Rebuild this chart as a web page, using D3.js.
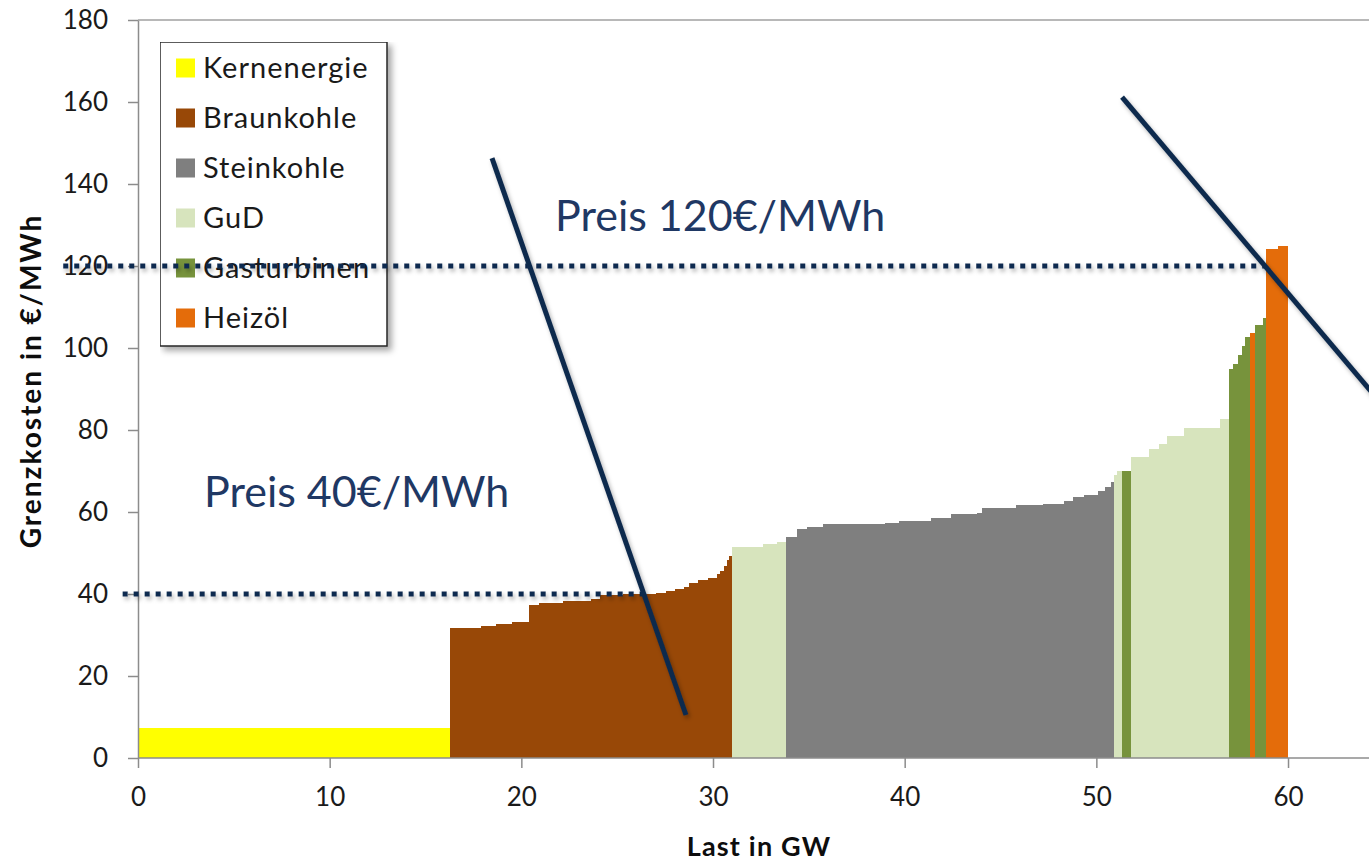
<!DOCTYPE html>
<html>
<head>
<meta charset="utf-8">
<script src="https://cdn.jsdelivr.net/npm/d3@7"></script>
<style>
  html, body { margin: 0; padding: 0; background: #ffffff; }
  svg { display: block; }
  text { font-family: Lato, "Open Sans", sans-serif; }
</style>
</head>
<body>
<svg id="chart" width="1369" height="864"></svg>
<script>
// Merit-order curve: marginal cost per power plant block, sorted by cost.
const techNames  = ["Kernenergie", "Braunkohle", "Steinkohle", "GuD", "Gasturbinen", "Heizöl"];
const techColors = ["#ffff00", "#984807", "#7f7f7f", "#d7e4bd", "#77933c", "#e46c0a"];

// Each block starts at stepStart (GW of cumulative load) and runs to the next start.
const stepStart = [
  0,
  16.28, 17.92, 18.67, 19.5, 20.42, 20.94, 22.16, 23.65, 24.12, 25.3, 27.05, 27.57, 28.0, 28.5, 28.76, 29.2, 29.75, 30.2, 30.37, 30.55, 30.72, 30.85,
  30.98, 32.62, 33.32,
  33.81, 34.37, 34.92, 35.72, 38.97, 39.72, 41.37, 42.4, 43.75, 44.05, 45.79, 47.23, 48.33, 48.8, 49.36, 50.07, 50.45, 50.75,
  50.9, 51.08,
  51.36,
  51.81, 52.75, 53.29, 53.67, 54.59, 56.45,
  56.94, 57.12, 57.38, 57.58, 57.76,
  58.03,
  58.29, 58.68,
  58.85, 59.5
];
const stepEnd = 59.96;
const stepCost = [
  7.4,
  31.7, 32.1, 32.6, 33.2, 37.3, 37.8, 38.3, 38.8, 39.8, 40.1, 40.3, 40.8, 41.2, 41.8, 42.8, 43.4, 44.0, 44.8, 45.6, 46.8, 48.2, 49.2,
  51.4, 52.1, 52.6,
  53.8, 55.9, 56.4, 57.0, 57.4, 57.7, 58.5, 59.4, 59.8, 61.0, 61.6, 62.0, 62.6, 63.6, 64.2, 65.1, 66.2, 67.2,
  69.0, 70.1,
  70.1,
  73.5, 75.3, 76.6, 78.6, 80.4, 82.6,
  94.9, 96.2, 98.3, 100.4, 102.6,
  103.6,
  105.6, 107.2,
  124.1, 124.9
];
const stepTech = [
  0,
  1, 1, 1, 1, 1, 1, 1, 1, 1, 1, 1, 1, 1, 1, 1, 1, 1, 1, 1, 1, 1, 1,
  3, 3, 3,
  2, 2, 2, 2, 2, 2, 2, 2, 2, 2, 2, 2, 2, 2, 2, 2, 2, 2,
  3, 3,
  4,
  3, 3, 3, 3, 3, 3,
  4, 4, 4, 4, 4,
  5,
  4, 4,
  5, 5
];

// Axis ticks
const xTicks = [0, 10, 20, 30, 40, 50, 60];
const yTicks = [0, 20, 40, 60, 80, 100, 120, 140, 160, 180];

// Demand curves (load GW, price €/MWh) and the resulting market prices
const demandLow  = [[18.47, 146.3], [28.59, 10.5]];
const demandHigh = [[51.34, 161.2], [66.0, 80.2]];
const priceLevels = [40, 120];
const priceLabels = ["Preis 40€/MWh", "Preis 120€/MWh"];
const priceLineStart = [-0.8, -3.9];

const svg = d3.select("#chart");
const W = 1369, H = 864;

const x = d3.scaleLinear().domain([0, 65]).range([138, 138 + 65 * 19.167]);
const y = d3.scaleLinear().domain([0, 180]).range([758, 20]);

const defs = svg.append("defs");
const shadow = defs.append("filter").attr("id", "shadow")
  .attr("filterUnits", "userSpaceOnUse")
  .attr("x", 0).attr("y", 0).attr("width", W).attr("height", H);
shadow.append("feDropShadow").attr("dx", 2).attr("dy", 3).attr("stdDeviation", 2)
  .attr("flood-color", "#000").attr("flood-opacity", 0.3);
const boxShadow = defs.append("filter").attr("id", "boxShadow")
  .attr("filterUnits", "userSpaceOnUse")
  .attr("x", 0).attr("y", 0).attr("width", W).attr("height", H);
boxShadow.append("feDropShadow").attr("dx", 4).attr("dy", 4).attr("stdDeviation", 3)
  .attr("flood-color", "#000").attr("flood-opacity", 0.35);

svg.append("rect").attr("width", W).attr("height", H).attr("fill", "#fff");

// Plot frame top line
svg.append("line")
  .attr("x1", x(0)).attr("x2", W)
  .attr("y1", y(180)).attr("y2", y(180))
  .attr("stroke", "#a0a0a0").attr("stroke-width", 1.5);

// Merit-order blocks
const steps = stepStart.map((s, i) => ({
  x0: s,
  x1: i < stepStart.length - 1 ? stepStart[i + 1] : stepEnd,
  cost: stepCost[i],
  tech: stepTech[i]
}));

svg.append("g").attr("shape-rendering", "crispEdges")
  .selectAll("rect").data(steps).join("rect")
  .attr("x", d => x(d.x0))
  .attr("width", d => x(d.x1) - x(d.x0) + 0.5)
  .attr("y", d => y(d.cost))
  .attr("height", d => y(0) - y(d.cost))
  .attr("fill", d => techColors[d.tech]);

// Axes
const axisColor = "#8c8c8c";
const xAxis = svg.append("g").attr("transform", `translate(0,${y(0)})`)
  .call(d3.axisBottom(x).tickValues(xTicks).tickSize(10).tickSizeOuter(0).tickPadding(20));
const yAxis = svg.append("g").attr("transform", `translate(${x(0)},0)`)
  .call(d3.axisLeft(y).tickValues(yTicks).tickSize(10).tickSizeOuter(0).tickPadding(20));

xAxis.select(".domain").attr("d", `M${x(0)},0H${W}`);
[xAxis, yAxis].forEach(g => {
  g.select(".domain").attr("stroke", axisColor).attr("stroke-width", 1.5);
  g.selectAll(".tick line").attr("stroke", axisColor).attr("stroke-width", 1.5);
  g.selectAll(".tick text")
    .attr("fill", "#1a1a1a")
    .style("font-family", "Lato, 'Open Sans', sans-serif")
    .style("font-size", "26px");
});

// Axis titles
svg.append("text")
  .attr("x", 759).attr("y", 856)
  .attr("text-anchor", "middle")
  .attr("fill", "#0d0d0d")
  .style("font-size", "27px").style("font-weight", "bold")
  .style("letter-spacing", "1.2px")
  .text("Last in GW");

svg.append("text")
  .attr("transform", "translate(41,381) rotate(-90)")
  .attr("text-anchor", "middle")
  .attr("fill", "#0d0d0d")
  .style("font-size", "28px").style("font-weight", "bold")
  .style("letter-spacing", "2px")
  .text("Grenzkosten in €/MWh");

// Legend
const legend = svg.append("g").attr("transform", "translate(160,42)");
legend.append("rect")
  .attr("width", 227).attr("height", 304)
  .attr("fill", "#fff").attr("stroke", "#262626").attr("stroke-width", 1.5)
  .attr("filter", "url(#boxShadow)");
const items = legend.selectAll("g.item").data(techNames).join("g")
  .attr("class", "item")
  .attr("transform", (d, i) => `translate(16,${26 + i * 50})`);
items.append("rect")
  .attr("y", -9.5).attr("width", 19).attr("height", 19)
  .attr("fill", (d, i) => techColors[i]);
items.append("text")
  .attr("x", 27).attr("y", 10)
  .attr("fill", "#1a1a1a")
  .style("font-size", "29px")
  .style("letter-spacing", "1px")
  .text(d => d);

// Demand curves
const demandCurves = [demandLow, demandHigh];

// Price lines end where the demand curve reaches the price
function loadAtPrice(curve, p) {
  const [[a0, b0], [a1, b1]] = curve;
  return a0 + (p - b0) * (a1 - a0) / (b1 - b0);
}

svg.append("g").selectAll("line").data(priceLevels).join("line")
  .attr("x1", (p, i) => x(priceLineStart[i]))
  .attr("x2", (p, i) => x(loadAtPrice(demandCurves[i], p)))
  .attr("y1", p => y(p)).attr("y2", p => y(p))
  .attr("stroke", "#0f2a4f").attr("stroke-width", 5)
  .attr("stroke-dasharray", "5,6")
  .attr("filter", "url(#shadow)");

svg.append("g").selectAll("line").data(demandCurves).join("line")
  .attr("x1", d => x(d[0][0])).attr("y1", d => y(d[0][1]))
  .attr("x2", d => x(d[1][0])).attr("y2", d => y(d[1][1]))
  .attr("stroke", "#112b4e").attr("stroke-width", 5)
  .attr("filter", "url(#shadow)");

// Price annotations
const labelPos = [[204, 507], [555, 231]];
svg.append("g").selectAll("text").data(priceLabels).join("text")
  .attr("x", (d, i) => labelPos[i][0]).attr("y", (d, i) => labelPos[i][1])
  .attr("fill", "#1f3864")
  .style("font-size", "43px")
  .text(d => d);
</script>
</body>
</html>
